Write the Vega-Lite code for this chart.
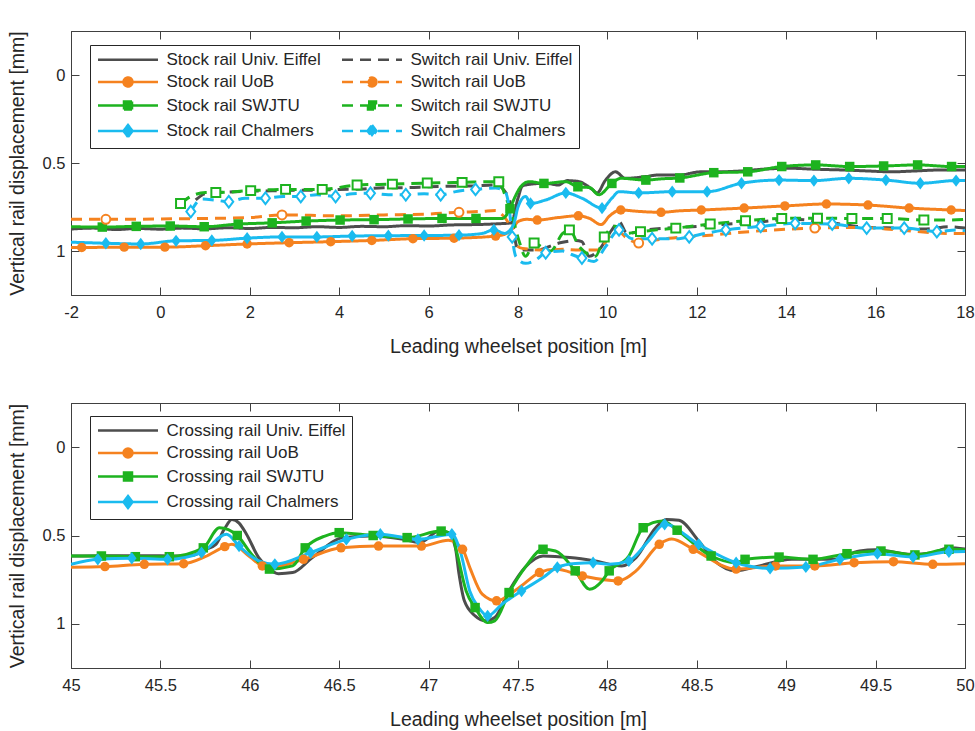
{
"$schema":"https://vega.github.io/schema/vega-lite/v6.json",
"background":"white",
"padding":{"left":6,"top":30,"right":0,"bottom":0},
"config":{
 "font":"Liberation Sans",
 "view":{"stroke":"#404040","strokeWidth":1},
 "axis":{"domainColor":"#404040","tickColor":"#404040","tickSize":-8,"tickWidth":1,"grid":false,"labelFont":"Liberation Sans","labelFontSize":16.5,"labelColor":"#262626","titleFont":"Liberation Sans","titleFontSize":19.5,"titleFontWeight":"normal","titleColor":"#262626","labelFlush":false,"labelOverlap":false},
 "legend":{"labelFont":"Liberation Sans","labelFontSize":17,"labelColor":"#262626","labelLimit":400,"fillColor":"white","strokeColor":"#262626","padding":6,"rowPadding":4.5,"columnPadding":16,"symbolSize":100,"symbolStrokeWidth":2.5,"symbolOffset":23.5,"labelOffset":30}
},
"datasets":{
"top":[
{"s":"Stock rail Univ. Eiffel","x":-2,"y":0.875,"m":0},{"s":"Stock rail Univ. Eiffel","x":-1.5,"y":0.87,"m":0},{"s":"Stock rail Univ. Eiffel","x":-1,"y":0.878,"m":0},{"s":"Stock rail Univ. Eiffel","x":-0.5,"y":0.872,"m":0},{"s":"Stock rail Univ. Eiffel","x":0,"y":0.876,"m":0},{"s":"Stock rail Univ. Eiffel","x":0.5,"y":0.87,"m":0},{"s":"Stock rail Univ. Eiffel","x":1,"y":0.874,"m":0},{"s":"Stock rail Univ. Eiffel","x":1.5,"y":0.868,"m":0},{"s":"Stock rail Univ. Eiffel","x":2,"y":0.872,"m":0},{"s":"Stock rail Univ. Eiffel","x":2.5,"y":0.866,"m":0},{"s":"Stock rail Univ. Eiffel","x":3,"y":0.868,"m":0},{"s":"Stock rail Univ. Eiffel","x":3.5,"y":0.862,"m":0},{"s":"Stock rail Univ. Eiffel","x":4,"y":0.866,"m":0},{"s":"Stock rail Univ. Eiffel","x":4.5,"y":0.86,"m":0},{"s":"Stock rail Univ. Eiffel","x":5,"y":0.862,"m":0},{"s":"Stock rail Univ. Eiffel","x":5.5,"y":0.856,"m":0},{"s":"Stock rail Univ. Eiffel","x":6,"y":0.858,"m":0},{"s":"Stock rail Univ. Eiffel","x":6.5,"y":0.852,"m":0},{"s":"Stock rail Univ. Eiffel","x":7,"y":0.85,"m":0},{"s":"Stock rail Univ. Eiffel","x":7.5,"y":0.846,"m":0},{"s":"Stock rail Univ. Eiffel","x":7.85,"y":0.84,"m":0},{"s":"Stock rail Univ. Eiffel","x":8,"y":0.7,"m":0},{"s":"Stock rail Univ. Eiffel","x":8.1,"y":0.63,"m":0},{"s":"Stock rail Univ. Eiffel","x":8.3,"y":0.62,"m":0},{"s":"Stock rail Univ. Eiffel","x":8.62,"y":0.615,"m":0},{"s":"Stock rail Univ. Eiffel","x":8.9,"y":0.625,"m":0},{"s":"Stock rail Univ. Eiffel","x":9.1,"y":0.6,"m":0},{"s":"Stock rail Univ. Eiffel","x":9.37,"y":0.606,"m":0},{"s":"Stock rail Univ. Eiffel","x":9.55,"y":0.63,"m":0},{"s":"Stock rail Univ. Eiffel","x":9.66,"y":0.65,"m":0},{"s":"Stock rail Univ. Eiffel","x":9.77,"y":0.67,"m":0},{"s":"Stock rail Univ. Eiffel","x":9.95,"y":0.6,"m":0},{"s":"Stock rail Univ. Eiffel","x":10.18,"y":0.55,"m":0},{"s":"Stock rail Univ. Eiffel","x":10.4,"y":0.587,"m":0},{"s":"Stock rail Univ. Eiffel","x":10.86,"y":0.577,"m":0},{"s":"Stock rail Univ. Eiffel","x":11.15,"y":0.568,"m":0},{"s":"Stock rail Univ. Eiffel","x":11.6,"y":0.568,"m":0},{"s":"Stock rail Univ. Eiffel","x":12.1,"y":0.55,"m":0},{"s":"Stock rail Univ. Eiffel","x":12.5,"y":0.55,"m":0},{"s":"Stock rail Univ. Eiffel","x":13,"y":0.545,"m":0},{"s":"Stock rail Univ. Eiffel","x":13.5,"y":0.535,"m":0},{"s":"Stock rail Univ. Eiffel","x":14.1,"y":0.53,"m":0},{"s":"Stock rail Univ. Eiffel","x":14.6,"y":0.535,"m":0},{"s":"Stock rail Univ. Eiffel","x":15.3,"y":0.54,"m":0},{"s":"Stock rail Univ. Eiffel","x":15.8,"y":0.545,"m":0},{"s":"Stock rail Univ. Eiffel","x":16.35,"y":0.55,"m":0},{"s":"Stock rail Univ. Eiffel","x":16.9,"y":0.545,"m":0},{"s":"Stock rail Univ. Eiffel","x":17.4,"y":0.54,"m":0},{"s":"Stock rail Univ. Eiffel","x":17.8,"y":0.54,"m":0},{"s":"Stock rail Univ. Eiffel","x":18,"y":0.54,"m":0},
{"s":"Switch rail Univ. Eiffel","x":0.79,"y":0.71,"m":0},{"s":"Switch rail Univ. Eiffel","x":1,"y":0.675,"m":0},{"s":"Switch rail Univ. Eiffel","x":1.5,"y":0.665,"m":0},{"s":"Switch rail Univ. Eiffel","x":2,"y":0.66,"m":0},{"s":"Switch rail Univ. Eiffel","x":2.5,"y":0.658,"m":0},{"s":"Switch rail Univ. Eiffel","x":3,"y":0.655,"m":0},{"s":"Switch rail Univ. Eiffel","x":3.5,"y":0.655,"m":0},{"s":"Switch rail Univ. Eiffel","x":4,"y":0.65,"m":0},{"s":"Switch rail Univ. Eiffel","x":4.5,"y":0.648,"m":0},{"s":"Switch rail Univ. Eiffel","x":5,"y":0.64,"m":0},{"s":"Switch rail Univ. Eiffel","x":5.5,"y":0.64,"m":0},{"s":"Switch rail Univ. Eiffel","x":6,"y":0.635,"m":0},{"s":"Switch rail Univ. Eiffel","x":6.5,"y":0.632,"m":0},{"s":"Switch rail Univ. Eiffel","x":7,"y":0.63,"m":0},{"s":"Switch rail Univ. Eiffel","x":7.5,"y":0.625,"m":0},{"s":"Switch rail Univ. Eiffel","x":7.8,"y":0.7,"m":0},{"s":"Switch rail Univ. Eiffel","x":7.98,"y":0.98,"m":0},{"s":"Switch rail Univ. Eiffel","x":8.1,"y":0.995,"m":0},{"s":"Switch rail Univ. Eiffel","x":8.4,"y":0.995,"m":0},{"s":"Switch rail Univ. Eiffel","x":8.92,"y":0.955,"m":0},{"s":"Switch rail Univ. Eiffel","x":9.29,"y":0.94,"m":0},{"s":"Switch rail Univ. Eiffel","x":9.43,"y":0.947,"m":0},{"s":"Switch rail Univ. Eiffel","x":9.59,"y":1.03,"m":0},{"s":"Switch rail Univ. Eiffel","x":9.81,"y":0.995,"m":0},{"s":"Switch rail Univ. Eiffel","x":10.1,"y":0.88,"m":0},{"s":"Switch rail Univ. Eiffel","x":10.26,"y":0.833,"m":0},{"s":"Switch rail Univ. Eiffel","x":10.44,"y":0.9,"m":0},{"s":"Switch rail Univ. Eiffel","x":10.86,"y":0.88,"m":0},{"s":"Switch rail Univ. Eiffel","x":11.3,"y":0.87,"m":0},{"s":"Switch rail Univ. Eiffel","x":11.9,"y":0.862,"m":0},{"s":"Switch rail Univ. Eiffel","x":12.5,"y":0.85,"m":0},{"s":"Switch rail Univ. Eiffel","x":13.2,"y":0.84,"m":0},{"s":"Switch rail Univ. Eiffel","x":14.13,"y":0.82,"m":0},{"s":"Switch rail Univ. Eiffel","x":15,"y":0.84,"m":0},{"s":"Switch rail Univ. Eiffel","x":15.78,"y":0.865,"m":0},{"s":"Switch rail Univ. Eiffel","x":16.5,"y":0.87,"m":0},{"s":"Switch rail Univ. Eiffel","x":17.13,"y":0.875,"m":0},{"s":"Switch rail Univ. Eiffel","x":17.64,"y":0.862,"m":0},{"s":"Switch rail Univ. Eiffel","x":18,"y":0.87,"m":0},
{"s":"Stock rail UoB","x":-2,"y":0.98,"m":0},{"s":"Stock rail UoB","x":-1.76,"y":0.98,"m":1},{"s":"Stock rail UoB","x":-0.81,"y":0.978,"m":1},{"s":"Stock rail UoB","x":0.1,"y":0.978,"m":1},{"s":"Stock rail UoB","x":1.01,"y":0.97,"m":1},{"s":"Stock rail UoB","x":1.94,"y":0.96,"m":1},{"s":"Stock rail UoB","x":2.88,"y":0.953,"m":1},{"s":"Stock rail UoB","x":3.81,"y":0.947,"m":1},{"s":"Stock rail UoB","x":4.73,"y":0.94,"m":1},{"s":"Stock rail UoB","x":5.65,"y":0.93,"m":1},{"s":"Stock rail UoB","x":6.57,"y":0.927,"m":1},{"s":"Stock rail UoB","x":7.5,"y":0.915,"m":1},{"s":"Stock rail UoB","x":7.7,"y":0.905,"m":0},{"s":"Stock rail UoB","x":7.85,"y":0.88,"m":0},{"s":"Stock rail UoB","x":8.02,"y":0.83,"m":0},{"s":"Stock rail UoB","x":8.2,"y":0.82,"m":0},{"s":"Stock rail UoB","x":8.43,"y":0.824,"m":1},{"s":"Stock rail UoB","x":8.9,"y":0.81,"m":0},{"s":"Stock rail UoB","x":9.35,"y":0.8,"m":1},{"s":"Stock rail UoB","x":9.6,"y":0.815,"m":0},{"s":"Stock rail UoB","x":9.86,"y":0.85,"m":0},{"s":"Stock rail UoB","x":10.05,"y":0.8,"m":0},{"s":"Stock rail UoB","x":10.3,"y":0.767,"m":1},{"s":"Stock rail UoB","x":10.7,"y":0.775,"m":0},{"s":"Stock rail UoB","x":11.2,"y":0.78,"m":1},{"s":"Stock rail UoB","x":11.6,"y":0.772,"m":0},{"s":"Stock rail UoB","x":12.1,"y":0.767,"m":1},{"s":"Stock rail UoB","x":13.06,"y":0.756,"m":1},{"s":"Stock rail UoB","x":13.97,"y":0.744,"m":1},{"s":"Stock rail UoB","x":14.9,"y":0.733,"m":1},{"s":"Stock rail UoB","x":15.83,"y":0.739,"m":1},{"s":"Stock rail UoB","x":16.75,"y":0.756,"m":1},{"s":"Stock rail UoB","x":17.69,"y":0.767,"m":1},{"s":"Stock rail UoB","x":18,"y":0.77,"m":0},
{"s":"Switch rail UoB","x":-2,"y":0.82,"m":0},{"s":"Switch rail UoB","x":-1.22,"y":0.82,"m":1},{"s":"Switch rail UoB","x":0,"y":0.818,"m":0},{"s":"Switch rail UoB","x":1,"y":0.815,"m":0},{"s":"Switch rail UoB","x":2,"y":0.81,"m":0},{"s":"Switch rail UoB","x":2.72,"y":0.795,"m":1},{"s":"Switch rail UoB","x":4,"y":0.8,"m":0},{"s":"Switch rail UoB","x":5,"y":0.795,"m":0},{"s":"Switch rail UoB","x":6,"y":0.79,"m":0},{"s":"Switch rail UoB","x":6.68,"y":0.78,"m":1},{"s":"Switch rail UoB","x":7.2,"y":0.775,"m":0},{"s":"Switch rail UoB","x":7.5,"y":0.77,"m":0},{"s":"Switch rail UoB","x":7.65,"y":0.795,"m":0},{"s":"Switch rail UoB","x":7.8,"y":0.85,"m":0},{"s":"Switch rail UoB","x":7.9,"y":0.93,"m":0},{"s":"Switch rail UoB","x":8,"y":0.975,"m":0},{"s":"Switch rail UoB","x":8.1,"y":0.985,"m":0},{"s":"Switch rail UoB","x":8.62,"y":0.995,"m":0},{"s":"Switch rail UoB","x":9,"y":0.99,"m":0},{"s":"Switch rail UoB","x":9.37,"y":0.995,"m":0},{"s":"Switch rail UoB","x":9.81,"y":0.995,"m":0},{"s":"Switch rail UoB","x":10.04,"y":0.92,"m":0},{"s":"Switch rail UoB","x":10.26,"y":0.89,"m":0},{"s":"Switch rail UoB","x":10.4,"y":0.92,"m":0},{"s":"Switch rail UoB","x":10.7,"y":0.955,"m":1},{"s":"Switch rail UoB","x":11,"y":0.94,"m":0},{"s":"Switch rail UoB","x":11.38,"y":0.928,"m":0},{"s":"Switch rail UoB","x":12.3,"y":0.91,"m":0},{"s":"Switch rail UoB","x":13.17,"y":0.89,"m":0},{"s":"Switch rail UoB","x":14.64,"y":0.87,"m":1},{"s":"Switch rail UoB","x":15.63,"y":0.866,"m":0},{"s":"Switch rail UoB","x":16.5,"y":0.88,"m":0},{"s":"Switch rail UoB","x":17.64,"y":0.9,"m":0},{"s":"Switch rail UoB","x":18,"y":0.9,"m":0},
{"s":"Stock rail SWJTU","x":-2,"y":0.862,"m":0},{"s":"Stock rail SWJTU","x":-1.3,"y":0.864,"m":1},{"s":"Stock rail SWJTU","x":-0.54,"y":0.86,"m":1},{"s":"Stock rail SWJTU","x":0.22,"y":0.858,"m":1},{"s":"Stock rail SWJTU","x":0.98,"y":0.862,"m":1},{"s":"Stock rail SWJTU","x":1.74,"y":0.847,"m":1},{"s":"Stock rail SWJTU","x":2.5,"y":0.84,"m":1},{"s":"Stock rail SWJTU","x":3.26,"y":0.83,"m":1},{"s":"Stock rail SWJTU","x":4.02,"y":0.824,"m":1},{"s":"Stock rail SWJTU","x":4.78,"y":0.822,"m":1},{"s":"Stock rail SWJTU","x":5.54,"y":0.818,"m":1},{"s":"Stock rail SWJTU","x":6.3,"y":0.815,"m":1},{"s":"Stock rail SWJTU","x":7.06,"y":0.815,"m":1},{"s":"Stock rail SWJTU","x":7.65,"y":0.815,"m":0},{"s":"Stock rail SWJTU","x":7.82,"y":0.76,"m":1},{"s":"Stock rail SWJTU","x":7.92,"y":0.7,"m":0},{"s":"Stock rail SWJTU","x":8.06,"y":0.635,"m":0},{"s":"Stock rail SWJTU","x":8.25,"y":0.606,"m":0},{"s":"Stock rail SWJTU","x":8.58,"y":0.616,"m":1},{"s":"Stock rail SWJTU","x":9.07,"y":0.606,"m":0},{"s":"Stock rail SWJTU","x":9.34,"y":0.635,"m":1},{"s":"Stock rail SWJTU","x":9.6,"y":0.64,"m":0},{"s":"Stock rail SWJTU","x":9.81,"y":0.68,"m":0},{"s":"Stock rail SWJTU","x":10.1,"y":0.616,"m":1},{"s":"Stock rail SWJTU","x":10.3,"y":0.587,"m":0},{"s":"Stock rail SWJTU","x":10.86,"y":0.597,"m":1},{"s":"Stock rail SWJTU","x":11.2,"y":0.59,"m":0},{"s":"Stock rail SWJTU","x":11.62,"y":0.585,"m":1},{"s":"Stock rail SWJTU","x":12.38,"y":0.555,"m":1},{"s":"Stock rail SWJTU","x":13.14,"y":0.55,"m":1},{"s":"Stock rail SWJTU","x":13.9,"y":0.52,"m":1},{"s":"Stock rail SWJTU","x":14.66,"y":0.511,"m":1},{"s":"Stock rail SWJTU","x":15.42,"y":0.52,"m":1},{"s":"Stock rail SWJTU","x":16.18,"y":0.517,"m":1},{"s":"Stock rail SWJTU","x":16.94,"y":0.511,"m":1},{"s":"Stock rail SWJTU","x":17.7,"y":0.52,"m":1},{"s":"Stock rail SWJTU","x":18,"y":0.52,"m":0},
{"s":"Switch rail SWJTU","x":0.45,"y":0.73,"m":1},{"s":"Switch rail SWJTU","x":0.68,"y":0.69,"m":0},{"s":"Switch rail SWJTU","x":1.01,"y":0.668,"m":0},{"s":"Switch rail SWJTU","x":1.24,"y":0.668,"m":1},{"s":"Switch rail SWJTU","x":2.02,"y":0.657,"m":1},{"s":"Switch rail SWJTU","x":2.8,"y":0.65,"m":1},{"s":"Switch rail SWJTU","x":3.62,"y":0.65,"m":1},{"s":"Switch rail SWJTU","x":4.4,"y":0.625,"m":1},{"s":"Switch rail SWJTU","x":5.19,"y":0.62,"m":1},{"s":"Switch rail SWJTU","x":5.97,"y":0.614,"m":1},{"s":"Switch rail SWJTU","x":6.75,"y":0.61,"m":1},{"s":"Switch rail SWJTU","x":7.57,"y":0.606,"m":1},{"s":"Switch rail SWJTU","x":7.72,"y":0.69,"m":0},{"s":"Switch rail SWJTU","x":7.87,"y":0.8,"m":0},{"s":"Switch rail SWJTU","x":8.02,"y":0.94,"m":0},{"s":"Switch rail SWJTU","x":8.17,"y":1.03,"m":0},{"s":"Switch rail SWJTU","x":8.36,"y":0.955,"m":1},{"s":"Switch rail SWJTU","x":8.55,"y":0.98,"m":0},{"s":"Switch rail SWJTU","x":8.73,"y":1.0,"m":0},{"s":"Switch rail SWJTU","x":9.0,"y":0.9,"m":0},{"s":"Switch rail SWJTU","x":9.15,"y":0.88,"m":1},{"s":"Switch rail SWJTU","x":9.37,"y":0.975,"m":0},{"s":"Switch rail SWJTU","x":9.73,"y":1.03,"m":0},{"s":"Switch rail SWJTU","x":9.93,"y":0.92,"m":1},{"s":"Switch rail SWJTU","x":10.18,"y":0.86,"m":0},{"s":"Switch rail SWJTU","x":10.4,"y":0.9,"m":0},{"s":"Switch rail SWJTU","x":10.74,"y":0.89,"m":1},{"s":"Switch rail SWJTU","x":11.1,"y":0.88,"m":0},{"s":"Switch rail SWJTU","x":11.53,"y":0.87,"m":1},{"s":"Switch rail SWJTU","x":12.3,"y":0.847,"m":1},{"s":"Switch rail SWJTU","x":13.09,"y":0.828,"m":1},{"s":"Switch rail SWJTU","x":13.9,"y":0.815,"m":1},{"s":"Switch rail SWJTU","x":14.7,"y":0.814,"m":1},{"s":"Switch rail SWJTU","x":15.47,"y":0.815,"m":1},{"s":"Switch rail SWJTU","x":16.26,"y":0.815,"m":1},{"s":"Switch rail SWJTU","x":17.08,"y":0.824,"m":1},{"s":"Switch rail SWJTU","x":17.6,"y":0.824,"m":0},{"s":"Switch rail SWJTU","x":18,"y":0.82,"m":0},
{"s":"Stock rail Chalmers","x":-2,"y":0.95,"m":0},{"s":"Stock rail Chalmers","x":-1.22,"y":0.956,"m":1},{"s":"Stock rail Chalmers","x":-0.44,"y":0.96,"m":1},{"s":"Stock rail Chalmers","x":0.35,"y":0.942,"m":1},{"s":"Stock rail Chalmers","x":1.15,"y":0.94,"m":1},{"s":"Stock rail Chalmers","x":1.94,"y":0.927,"m":1},{"s":"Stock rail Chalmers","x":2.72,"y":0.92,"m":1},{"s":"Stock rail Chalmers","x":3.5,"y":0.92,"m":1},{"s":"Stock rail Chalmers","x":4.29,"y":0.915,"m":1},{"s":"Stock rail Chalmers","x":5.1,"y":0.913,"m":1},{"s":"Stock rail Chalmers","x":5.9,"y":0.912,"m":1},{"s":"Stock rail Chalmers","x":6.68,"y":0.91,"m":1},{"s":"Stock rail Chalmers","x":7.2,"y":0.9,"m":0},{"s":"Stock rail Chalmers","x":7.46,"y":0.88,"m":1},{"s":"Stock rail Chalmers","x":7.7,"y":0.9,"m":0},{"s":"Stock rail Chalmers","x":7.9,"y":0.85,"m":0},{"s":"Stock rail Chalmers","x":8.0,"y":0.75,"m":0},{"s":"Stock rail Chalmers","x":8.17,"y":0.69,"m":0},{"s":"Stock rail Chalmers","x":8.28,"y":0.73,"m":1},{"s":"Stock rail Chalmers","x":8.62,"y":0.71,"m":0},{"s":"Stock rail Chalmers","x":9.07,"y":0.67,"m":1},{"s":"Stock rail Chalmers","x":9.43,"y":0.7,"m":0},{"s":"Stock rail Chalmers","x":9.88,"y":0.756,"m":1},{"s":"Stock rail Chalmers","x":10.1,"y":0.7,"m":0},{"s":"Stock rail Chalmers","x":10.26,"y":0.663,"m":0},{"s":"Stock rail Chalmers","x":10.7,"y":0.67,"m":1},{"s":"Stock rail Chalmers","x":11.45,"y":0.663,"m":1},{"s":"Stock rail Chalmers","x":12.23,"y":0.663,"m":1},{"s":"Stock rail Chalmers","x":13.0,"y":0.615,"m":1},{"s":"Stock rail Chalmers","x":13.84,"y":0.597,"m":1},{"s":"Stock rail Chalmers","x":14.62,"y":0.6,"m":1},{"s":"Stock rail Chalmers","x":15.4,"y":0.587,"m":1},{"s":"Stock rail Chalmers","x":16.23,"y":0.597,"m":1},{"s":"Stock rail Chalmers","x":17.0,"y":0.615,"m":1},{"s":"Stock rail Chalmers","x":17.8,"y":0.6,"m":1},{"s":"Stock rail Chalmers","x":18,"y":0.6,"m":0},
{"s":"Switch rail Chalmers","x":0.68,"y":0.776,"m":1},{"s":"Switch rail Chalmers","x":0.93,"y":0.705,"m":0},{"s":"Switch rail Chalmers","x":1.2,"y":0.71,"m":0},{"s":"Switch rail Chalmers","x":1.53,"y":0.72,"m":1},{"s":"Switch rail Chalmers","x":1.9,"y":0.7,"m":0},{"s":"Switch rail Chalmers","x":2.35,"y":0.7,"m":1},{"s":"Switch rail Chalmers","x":2.75,"y":0.69,"m":0},{"s":"Switch rail Chalmers","x":3.14,"y":0.69,"m":1},{"s":"Switch rail Chalmers","x":3.5,"y":0.68,"m":0},{"s":"Switch rail Chalmers","x":3.92,"y":0.69,"m":1},{"s":"Switch rail Chalmers","x":4.3,"y":0.675,"m":0},{"s":"Switch rail Chalmers","x":4.7,"y":0.672,"m":1},{"s":"Switch rail Chalmers","x":5.1,"y":0.68,"m":0},{"s":"Switch rail Chalmers","x":5.49,"y":0.68,"m":1},{"s":"Switch rail Chalmers","x":5.9,"y":0.675,"m":0},{"s":"Switch rail Chalmers","x":6.27,"y":0.68,"m":1},{"s":"Switch rail Chalmers","x":6.65,"y":0.66,"m":0},{"s":"Switch rail Chalmers","x":7.05,"y":0.65,"m":1},{"s":"Switch rail Chalmers","x":7.5,"y":0.642,"m":0},{"s":"Switch rail Chalmers","x":7.7,"y":0.66,"m":0},{"s":"Switch rail Chalmers","x":7.8,"y":0.75,"m":0},{"s":"Switch rail Chalmers","x":7.87,"y":0.92,"m":1},{"s":"Switch rail Chalmers","x":7.95,"y":1.03,"m":0},{"s":"Switch rail Chalmers","x":8.17,"y":1.07,"m":0},{"s":"Switch rail Chalmers","x":8.4,"y":1.05,"m":0},{"s":"Switch rail Chalmers","x":8.62,"y":1.01,"m":1},{"s":"Switch rail Chalmers","x":9.0,"y":1.0,"m":0},{"s":"Switch rail Chalmers","x":9.2,"y":1.02,"m":0},{"s":"Switch rail Chalmers","x":9.43,"y":1.04,"m":1},{"s":"Switch rail Chalmers","x":9.7,"y":1.06,"m":0},{"s":"Switch rail Chalmers","x":9.96,"y":0.975,"m":0},{"s":"Switch rail Chalmers","x":10.26,"y":0.88,"m":1},{"s":"Switch rail Chalmers","x":10.55,"y":0.93,"m":0},{"s":"Switch rail Chalmers","x":11.0,"y":0.93,"m":1},{"s":"Switch rail Chalmers","x":11.6,"y":0.93,"m":0},{"s":"Switch rail Chalmers","x":11.83,"y":0.92,"m":1},{"s":"Switch rail Chalmers","x":12.2,"y":0.9,"m":0},{"s":"Switch rail Chalmers","x":12.65,"y":0.88,"m":1},{"s":"Switch rail Chalmers","x":13.43,"y":0.86,"m":1},{"s":"Switch rail Chalmers","x":14.2,"y":0.843,"m":1},{"s":"Switch rail Chalmers","x":15.03,"y":0.847,"m":1},{"s":"Switch rail Chalmers","x":15.8,"y":0.87,"m":1},{"s":"Switch rail Chalmers","x":16.64,"y":0.87,"m":1},{"s":"Switch rail Chalmers","x":17.37,"y":0.89,"m":1},{"s":"Switch rail Chalmers","x":17.82,"y":0.88,"m":0},{"s":"Switch rail Chalmers","x":18,"y":0.885,"m":0}
],
"bottom":[
{"s":"Crossing rail Univ. Eiffel","x":45.0,"y":0.616,"m":0},{"s":"Crossing rail Univ. Eiffel","x":45.2,"y":0.614,"m":0},{"s":"Crossing rail Univ. Eiffel","x":45.4,"y":0.614,"m":0},{"s":"Crossing rail Univ. Eiffel","x":45.6,"y":0.616,"m":0},{"s":"Crossing rail Univ. Eiffel","x":45.68,"y":0.612,"m":0},{"s":"Crossing rail Univ. Eiffel","x":45.75,"y":0.58,"m":0},{"s":"Crossing rail Univ. Eiffel","x":45.81,"y":0.55,"m":0},{"s":"Crossing rail Univ. Eiffel","x":45.86,"y":0.46,"m":0},{"s":"Crossing rail Univ. Eiffel","x":45.9,"y":0.41,"m":0},{"s":"Crossing rail Univ. Eiffel","x":45.94,"y":0.43,"m":0},{"s":"Crossing rail Univ. Eiffel","x":45.98,"y":0.49,"m":0},{"s":"Crossing rail Univ. Eiffel","x":46.05,"y":0.625,"m":0},{"s":"Crossing rail Univ. Eiffel","x":46.1,"y":0.68,"m":0},{"s":"Crossing rail Univ. Eiffel","x":46.16,"y":0.716,"m":0},{"s":"Crossing rail Univ. Eiffel","x":46.24,"y":0.71,"m":0},{"s":"Crossing rail Univ. Eiffel","x":46.35,"y":0.625,"m":0},{"s":"Crossing rail Univ. Eiffel","x":46.52,"y":0.512,"m":0},{"s":"Crossing rail Univ. Eiffel","x":46.67,"y":0.503,"m":0},{"s":"Crossing rail Univ. Eiffel","x":46.85,"y":0.52,"m":0},{"s":"Crossing rail Univ. Eiffel","x":46.95,"y":0.54,"m":0},{"s":"Crossing rail Univ. Eiffel","x":47.06,"y":0.475,"m":0},{"s":"Crossing rail Univ. Eiffel","x":47.11,"y":0.484,"m":0},{"s":"Crossing rail Univ. Eiffel","x":47.15,"y":0.57,"m":0},{"s":"Crossing rail Univ. Eiffel","x":47.17,"y":0.717,"m":0},{"s":"Crossing rail Univ. Eiffel","x":47.2,"y":0.87,"m":0},{"s":"Crossing rail Univ. Eiffel","x":47.26,"y":0.955,"m":0},{"s":"Crossing rail Univ. Eiffel","x":47.32,"y":0.983,"m":0},{"s":"Crossing rail Univ. Eiffel","x":47.37,"y":0.964,"m":0},{"s":"Crossing rail Univ. Eiffel","x":47.45,"y":0.813,"m":0},{"s":"Crossing rail Univ. Eiffel","x":47.54,"y":0.68,"m":0},{"s":"Crossing rail Univ. Eiffel","x":47.64,"y":0.616,"m":0},{"s":"Crossing rail Univ. Eiffel","x":47.79,"y":0.625,"m":0},{"s":"Crossing rail Univ. Eiffel","x":47.93,"y":0.644,"m":0},{"s":"Crossing rail Univ. Eiffel","x":48.08,"y":0.672,"m":0},{"s":"Crossing rail Univ. Eiffel","x":48.16,"y":0.625,"m":0},{"s":"Crossing rail Univ. Eiffel","x":48.27,"y":0.456,"m":0},{"s":"Crossing rail Univ. Eiffel","x":48.33,"y":0.41,"m":0},{"s":"Crossing rail Univ. Eiffel","x":48.4,"y":0.414,"m":0},{"s":"Crossing rail Univ. Eiffel","x":48.51,"y":0.53,"m":0},{"s":"Crossing rail Univ. Eiffel","x":48.6,"y":0.644,"m":0},{"s":"Crossing rail Univ. Eiffel","x":48.72,"y":0.7,"m":0},{"s":"Crossing rail Univ. Eiffel","x":48.85,"y":0.672,"m":0},{"s":"Crossing rail Univ. Eiffel","x":49.03,"y":0.635,"m":0},{"s":"Crossing rail Univ. Eiffel","x":49.26,"y":0.635,"m":0},{"s":"Crossing rail Univ. Eiffel","x":49.41,"y":0.588,"m":0},{"s":"Crossing rail Univ. Eiffel","x":49.5,"y":0.58,"m":0},{"s":"Crossing rail Univ. Eiffel","x":49.7,"y":0.606,"m":0},{"s":"Crossing rail Univ. Eiffel","x":49.82,"y":0.597,"m":0},{"s":"Crossing rail Univ. Eiffel","x":49.91,"y":0.57,"m":0},{"s":"Crossing rail Univ. Eiffel","x":50.0,"y":0.577,"m":0},
{"s":"Crossing rail UoB","x":45.0,"y":0.68,"m":0},{"s":"Crossing rail UoB","x":45.19,"y":0.676,"m":1},{"s":"Crossing rail UoB","x":45.41,"y":0.663,"m":1},{"s":"Crossing rail UoB","x":45.63,"y":0.66,"m":1},{"s":"Crossing rail UoB","x":45.75,"y":0.62,"m":0},{"s":"Crossing rail UoB","x":45.86,"y":0.563,"m":1},{"s":"Crossing rail UoB","x":45.9,"y":0.55,"m":0},{"s":"Crossing rail UoB","x":46.0,"y":0.62,"m":0},{"s":"Crossing rail UoB","x":46.07,"y":0.672,"m":1},{"s":"Crossing rail UoB","x":46.12,"y":0.68,"m":0},{"s":"Crossing rail UoB","x":46.3,"y":0.635,"m":1},{"s":"Crossing rail UoB","x":46.51,"y":0.57,"m":1},{"s":"Crossing rail UoB","x":46.72,"y":0.56,"m":1},{"s":"Crossing rail UoB","x":46.96,"y":0.56,"m":1},{"s":"Crossing rail UoB","x":47.11,"y":0.527,"m":0},{"s":"Crossing rail UoB","x":47.19,"y":0.578,"m":1},{"s":"Crossing rail UoB","x":47.23,"y":0.68,"m":0},{"s":"Crossing rail UoB","x":47.3,"y":0.832,"m":0},{"s":"Crossing rail UoB","x":47.38,"y":0.87,"m":1},{"s":"Crossing rail UoB","x":47.5,"y":0.8,"m":0},{"s":"Crossing rail UoB","x":47.62,"y":0.71,"m":1},{"s":"Crossing rail UoB","x":47.71,"y":0.69,"m":0},{"s":"Crossing rail UoB","x":47.86,"y":0.729,"m":1},{"s":"Crossing rail UoB","x":48.06,"y":0.757,"m":1},{"s":"Crossing rail UoB","x":48.16,"y":0.7,"m":0},{"s":"Crossing rail UoB","x":48.29,"y":0.55,"m":1},{"s":"Crossing rail UoB","x":48.36,"y":0.52,"m":0},{"s":"Crossing rail UoB","x":48.48,"y":0.578,"m":1},{"s":"Crossing rail UoB","x":48.72,"y":0.69,"m":1},{"s":"Crossing rail UoB","x":48.94,"y":0.672,"m":1},{"s":"Crossing rail UoB","x":49.16,"y":0.672,"m":1},{"s":"Crossing rail UoB","x":49.38,"y":0.654,"m":1},{"s":"Crossing rail UoB","x":49.6,"y":0.648,"m":1},{"s":"Crossing rail UoB","x":49.82,"y":0.663,"m":1},{"s":"Crossing rail UoB","x":50.0,"y":0.66,"m":0},
{"s":"Crossing rail SWJTU","x":45.0,"y":0.616,"m":0},{"s":"Crossing rail SWJTU","x":45.17,"y":0.616,"m":1},{"s":"Crossing rail SWJTU","x":45.36,"y":0.62,"m":1},{"s":"Crossing rail SWJTU","x":45.55,"y":0.62,"m":1},{"s":"Crossing rail SWJTU","x":45.74,"y":0.57,"m":1},{"s":"Crossing rail SWJTU","x":45.83,"y":0.456,"m":0},{"s":"Crossing rail SWJTU","x":45.93,"y":0.5,"m":1},{"s":"Crossing rail SWJTU","x":46.01,"y":0.606,"m":0},{"s":"Crossing rail SWJTU","x":46.11,"y":0.69,"m":1},{"s":"Crossing rail SWJTU","x":46.24,"y":0.672,"m":0},{"s":"Crossing rail SWJTU","x":46.31,"y":0.57,"m":1},{"s":"Crossing rail SWJTU","x":46.42,"y":0.503,"m":0},{"s":"Crossing rail SWJTU","x":46.5,"y":0.484,"m":1},{"s":"Crossing rail SWJTU","x":46.69,"y":0.5,"m":1},{"s":"Crossing rail SWJTU","x":46.88,"y":0.512,"m":1},{"s":"Crossing rail SWJTU","x":47.07,"y":0.475,"m":1},{"s":"Crossing rail SWJTU","x":47.13,"y":0.493,"m":0},{"s":"Crossing rail SWJTU","x":47.16,"y":0.606,"m":0},{"s":"Crossing rail SWJTU","x":47.21,"y":0.814,"m":0},{"s":"Crossing rail SWJTU","x":47.26,"y":0.908,"m":1},{"s":"Crossing rail SWJTU","x":47.33,"y":0.993,"m":0},{"s":"Crossing rail SWJTU","x":47.37,"y":0.983,"m":0},{"s":"Crossing rail SWJTU","x":47.45,"y":0.823,"m":1},{"s":"Crossing rail SWJTU","x":47.54,"y":0.68,"m":0},{"s":"Crossing rail SWJTU","x":47.64,"y":0.578,"m":1},{"s":"Crossing rail SWJTU","x":47.71,"y":0.588,"m":0},{"s":"Crossing rail SWJTU","x":47.82,"y":0.7,"m":1},{"s":"Crossing rail SWJTU","x":47.9,"y":0.804,"m":0},{"s":"Crossing rail SWJTU","x":47.97,"y":0.757,"m":0},{"s":"Crossing rail SWJTU","x":48.01,"y":0.7,"m":1},{"s":"Crossing rail SWJTU","x":48.12,"y":0.616,"m":0},{"s":"Crossing rail SWJTU","x":48.2,"y":0.456,"m":1},{"s":"Crossing rail SWJTU","x":48.31,"y":0.418,"m":0},{"s":"Crossing rail SWJTU","x":48.39,"y":0.47,"m":1},{"s":"Crossing rail SWJTU","x":48.58,"y":0.616,"m":1},{"s":"Crossing rail SWJTU","x":48.72,"y":0.654,"m":0},{"s":"Crossing rail SWJTU","x":48.77,"y":0.635,"m":1},{"s":"Crossing rail SWJTU","x":48.96,"y":0.622,"m":1},{"s":"Crossing rail SWJTU","x":49.15,"y":0.635,"m":1},{"s":"Crossing rail SWJTU","x":49.34,"y":0.603,"m":1},{"s":"Crossing rail SWJTU","x":49.53,"y":0.588,"m":1},{"s":"Crossing rail SWJTU","x":49.72,"y":0.61,"m":1},{"s":"Crossing rail SWJTU","x":49.91,"y":0.578,"m":1},{"s":"Crossing rail SWJTU","x":50.0,"y":0.58,"m":0},
{"s":"Crossing rail Chalmers","x":45.0,"y":0.663,"m":0},{"s":"Crossing rail Chalmers","x":45.15,"y":0.635,"m":1},{"s":"Crossing rail Chalmers","x":45.34,"y":0.629,"m":1},{"s":"Crossing rail Chalmers","x":45.54,"y":0.635,"m":1},{"s":"Crossing rail Chalmers","x":45.73,"y":0.597,"m":1},{"s":"Crossing rail Chalmers","x":45.87,"y":0.493,"m":0},{"s":"Crossing rail Chalmers","x":45.94,"y":0.56,"m":1},{"s":"Crossing rail Chalmers","x":46.05,"y":0.644,"m":0},{"s":"Crossing rail Chalmers","x":46.14,"y":0.663,"m":1},{"s":"Crossing rail Chalmers","x":46.34,"y":0.597,"m":1},{"s":"Crossing rail Chalmers","x":46.54,"y":0.522,"m":1},{"s":"Crossing rail Chalmers","x":46.73,"y":0.493,"m":1},{"s":"Crossing rail Chalmers","x":46.94,"y":0.522,"m":1},{"s":"Crossing rail Chalmers","x":47.13,"y":0.493,"m":1},{"s":"Crossing rail Chalmers","x":47.18,"y":0.6,"m":0},{"s":"Crossing rail Chalmers","x":47.23,"y":0.814,"m":0},{"s":"Crossing rail Chalmers","x":47.28,"y":0.908,"m":0},{"s":"Crossing rail Chalmers","x":47.33,"y":0.955,"m":1},{"s":"Crossing rail Chalmers","x":47.41,"y":0.889,"m":0},{"s":"Crossing rail Chalmers","x":47.52,"y":0.814,"m":1},{"s":"Crossing rail Chalmers","x":47.64,"y":0.738,"m":0},{"s":"Crossing rail Chalmers","x":47.72,"y":0.68,"m":1},{"s":"Crossing rail Chalmers","x":47.82,"y":0.658,"m":0},{"s":"Crossing rail Chalmers","x":47.92,"y":0.654,"m":1},{"s":"Crossing rail Chalmers","x":48.01,"y":0.663,"m":0},{"s":"Crossing rail Chalmers","x":48.12,"y":0.644,"m":1},{"s":"Crossing rail Chalmers","x":48.23,"y":0.531,"m":0},{"s":"Crossing rail Chalmers","x":48.32,"y":0.437,"m":1},{"s":"Crossing rail Chalmers","x":48.51,"y":0.55,"m":1},{"s":"Crossing rail Chalmers","x":48.72,"y":0.654,"m":1},{"s":"Crossing rail Chalmers","x":48.91,"y":0.686,"m":1},{"s":"Crossing rail Chalmers","x":49.11,"y":0.678,"m":1},{"s":"Crossing rail Chalmers","x":49.3,"y":0.635,"m":1},{"s":"Crossing rail Chalmers","x":49.51,"y":0.603,"m":1},{"s":"Crossing rail Chalmers","x":49.71,"y":0.622,"m":1},{"s":"Crossing rail Chalmers","x":49.91,"y":0.592,"m":1},{"s":"Crossing rail Chalmers","x":50.0,"y":0.59,"m":0}
]
},
"spacing":45,
"resolve":{"scale":{"color":"independent","shape":"independent","strokeDash":"independent"},"legend":{"color":"independent","shape":"independent","strokeDash":"independent"}},
"vconcat":[
{
 "width":894,"height":264,
 "data":{"name":"top"},
 "layer":[
  {"mark":{"type":"line","strokeWidth":3,"interpolate":"monotone","clip":true},
   "encoding":{
    "x":{"field":"x","type":"quantitative","scale":{"domain":[-2,18],"nice":false,"zero":false},"axis":{"orient":"bottom","values":[-2,0,2,4,6,8,10,12,14,16,18],"labelExpr":"'' + datum.value","title":"Leading wheelset position [m]","labelPadding":17,"titlePadding":17}},
    "y":{"field":"y","type":"quantitative","scale":{"domain":[-0.25,1.25],"reverse":true,"nice":false,"zero":false},"axis":{"orient":"left","values":[0,0.5,1],"labelExpr":"'' + datum.value","title":"Vertical rail displacement [mm]","labelPadding":14,"titlePadding":15}},
    "color":{"field":"s","type":"nominal","sort":null,
      "scale":{"domain":["Stock rail Univ. Eiffel","Stock rail UoB","Stock rail SWJTU","Stock rail Chalmers","Switch rail Univ. Eiffel","Switch rail UoB","Switch rail SWJTU","Switch rail Chalmers"],
               "range":["#4D4D4D","#F5821F","#1DB31F","#1ABBEF","#4D4D4D","#F5821F","#1DB31F","#1ABBEF"]},
      "legend":{"orient":"none","legendX":19,"legendY":14,"columns":2,"title":null,
        "symbolType":{"expr":"test(/UoB/, datum.value) ? 'M-6,0H6M0.9,0A0.9,0.9,0,1,1,-0.9,0A0.9,0.9,0,1,1,0.9,0Z' : test(/SWJTU/, datum.value) ? 'M-6,0H6M-0.8,-0.8H0.8V0.8H-0.8Z' : test(/Chalmers/, datum.value) ? 'M-6,0H6M0,-1.2L0.9,0L0,1.2L-0.9,0Z' : 'M-6,0H6'"}}},
    "strokeDash":{"field":"s","type":"nominal","sort":null,
      "scale":{"domain":["Stock rail Univ. Eiffel","Stock rail UoB","Stock rail SWJTU","Stock rail Chalmers","Switch rail Univ. Eiffel","Switch rail UoB","Switch rail SWJTU","Switch rail Chalmers"],
               "range":[[1,0],[1,0],[1,0],[1,0],[11,7],[11,7],[11,7],[11,7]]},"legend":null}
   }},
  {"transform":[{"filter":"datum.m == 1 && test(/Stock/, datum.s)"}],
   "mark":{"type":"point","filled":true,"size":90,"strokeWidth":2,"opacity":1,"clip":true},
   "encoding":{
    "x":{"field":"x","type":"quantitative","scale":{"domain":[-2,18],"nice":false,"zero":false},"axis":null},
    "y":{"field":"y","type":"quantitative","scale":{"domain":[-0.25,1.25],"reverse":true,"nice":false,"zero":false},"axis":null},
    "color":{"field":"s","type":"nominal","sort":null,"legend":null},
    "shape":{"field":"s","type":"nominal","sort":null,
      "scale":{"domain":["Stock rail UoB","Stock rail SWJTU","Stock rail Chalmers","Switch rail UoB","Switch rail SWJTU","Switch rail Chalmers"],
               "range":["circle","square","M0,-1.3L1,0L0,1.3L-1,0Z","circle","square","M0,-1.3L1,0L0,1.3L-1,0Z"]},"legend":null}
   }},
  {"transform":[{"filter":"datum.m == 1 && test(/Switch/, datum.s)"}],
   "mark":{"type":"point","filled":false,"fill":"white","fillOpacity":1,"size":80,"strokeWidth":2,"opacity":1,"clip":true},
   "encoding":{
    "x":{"field":"x","type":"quantitative","scale":{"domain":[-2,18],"nice":false,"zero":false},"axis":{"orient":"top","values":[-2,0,2,4,6,8,10,12,14,16,18],"labels":false,"title":null}},
    "y":{"field":"y","type":"quantitative","scale":{"domain":[-0.25,1.25],"reverse":true,"nice":false,"zero":false},"axis":{"orient":"right","values":[0,0.5,1],"labels":false,"title":null}},
    "color":{"field":"s","type":"nominal","sort":null,"legend":null},
    "shape":{"field":"s","type":"nominal","sort":null,"legend":null}
   }}
 ],
 "resolve":{"axis":{"x":"independent","y":"independent"}}
},
{
 "width":894,"height":265,
 "data":{"name":"bottom"},
 "layer":[
  {"mark":{"type":"line","strokeWidth":3,"interpolate":"monotone","clip":true},
   "encoding":{
    "x":{"field":"x","type":"quantitative","scale":{"domain":[45,50],"nice":false,"zero":false},"axis":{"orient":"bottom","values":[45,45.5,46,46.5,47,47.5,48,48.5,49,49.5,50],"labelExpr":"'' + datum.value","title":"Leading wheelset position [m]","labelPadding":17,"titlePadding":17}},
    "y":{"field":"y","type":"quantitative","scale":{"domain":[-0.25,1.25],"reverse":true,"nice":false,"zero":false},"axis":{"orient":"left","values":[0,0.5,1],"labelExpr":"'' + datum.value","title":"Vertical rail displacement [mm]","labelPadding":14,"titlePadding":15}},
    "color":{"field":"s","type":"nominal","sort":null,
      "scale":{"domain":["Crossing rail Univ. Eiffel","Crossing rail UoB","Crossing rail SWJTU","Crossing rail Chalmers"],"range":["#4D4D4D","#F5821F","#1DB31F","#1ABBEF"]},
      "legend":{"orient":"none","legendX":19,"legendY":13,"columns":1,"title":null,
        "symbolType":{"expr":"test(/UoB/, datum.value) ? 'M-6,0H6M0.9,0A0.9,0.9,0,1,1,-0.9,0A0.9,0.9,0,1,1,0.9,0Z' : test(/SWJTU/, datum.value) ? 'M-6,0H6M-0.8,-0.8H0.8V0.8H-0.8Z' : test(/Chalmers/, datum.value) ? 'M-6,0H6M0,-1.2L0.9,0L0,1.2L-0.9,0Z' : 'M-6,0H6'"}}}
   }},
  {"transform":[{"filter":"datum.m == 1"}],
   "mark":{"type":"point","filled":true,"size":90,"strokeWidth":2,"opacity":1,"clip":true},
   "encoding":{
    "x":{"field":"x","type":"quantitative","scale":{"domain":[45,50],"nice":false,"zero":false},"axis":{"orient":"top","values":[45,45.5,46,46.5,47,47.5,48,48.5,49,49.5,50],"labels":false,"title":null}},
    "y":{"field":"y","type":"quantitative","scale":{"domain":[-0.25,1.25],"reverse":true,"nice":false,"zero":false},"axis":{"orient":"right","values":[0,0.5,1],"labels":false,"title":null}},
    "color":{"field":"s","type":"nominal","sort":null,"legend":null},
    "shape":{"field":"s","type":"nominal","sort":null,
      "scale":{"domain":["Crossing rail UoB","Crossing rail SWJTU","Crossing rail Chalmers"],"range":["circle","square","M0,-1.3L1,0L0,1.3L-1,0Z"]},"legend":null}
   }}
 ],
 "resolve":{"axis":{"x":"independent","y":"independent"}}
}
]
}
